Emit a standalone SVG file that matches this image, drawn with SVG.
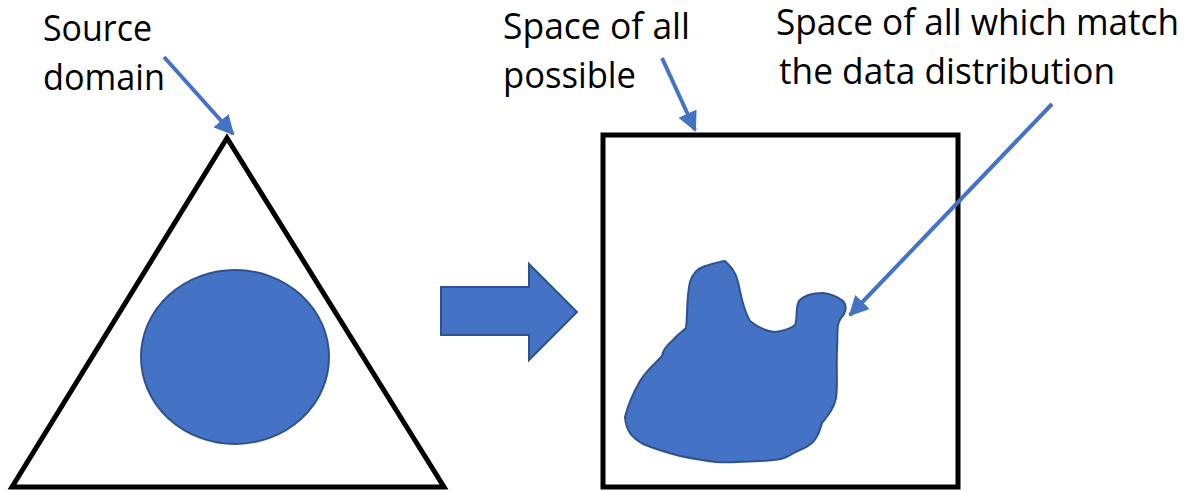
<svg xmlns="http://www.w3.org/2000/svg" width="1191" height="491" viewBox="0 0 1191 491">
<style>
.lbl{font-family:"Open Sans","Noto Sans",sans-serif;font-size:36px;fill:#000}
.outline{fill:#fff;stroke:#000;stroke-width:5}
.blue{fill:#4472C4;stroke:#2F528F;stroke-width:2}
.conn{stroke:#4472C4;stroke-width:4;fill:none}
</style>
<defs>
<marker id="ah" viewBox="0 0 10 10" refX="9" refY="5" markerWidth="5" markerHeight="5" orient="auto" markerUnits="strokeWidth">
<path d="M0,0 L10,5 L0,10 z" fill="#4472C4"/>
</marker>
</defs>
<rect width="1191" height="491" fill="#fff"/>
<g id="source-domain">
<polygon class="outline" points="227,138 444,487 12,487"/>
<ellipse class="blue" cx="235" cy="357" rx="94" ry="87"/>
</g>
<g id="transform-arrow">
<polygon class="blue" points="441,287 529,287 529,264 577,312 529,360 529,335 441,335"/>
</g>
<g id="target-space">
<rect class="outline" x="603" y="135" width="355" height="352"/>
<path class="blue" d="M725,261 C731,267 736,272 738,282 C741,295 743,310 750,321 C756,326 765,331 775,332 C783,331 790,329 795,325 C798,318 795,308 799,301 C805,294 815,293 823,293 C832,294 838,297 843,301 C848,307 845,314 841,318 C836,324 838,334 837,350 C836,370 838,385 836,398 C834,408 829,414 822,423 C819,432 818,437 812,443 C805,449 798,450 792,454 C785,459 780,460 760,461 C740,462 730,463 716,462 C700,460 690,458 680,456 C665,452 655,449 643,444 C633,438 626,432 625,417 C628,405 632,395 640,381 C648,368 655,364 662,356 C663,350 667,345 673,340 C679,333 683,331 686,328 C688,312 686,300 690,282 C693,272 699,268 705,266 C712,264 718,262 725,261 Z"/>
</g>
<g id="label-source">
<text class="lbl" x="43" y="41" textLength="109" lengthAdjust="spacingAndGlyphs">Source</text>
<text class="lbl" x="43" y="90" textLength="122" lengthAdjust="spacingAndGlyphs">domain</text>
</g>
<g id="label-possible">
<text class="lbl" x="503" y="39" textLength="187" lengthAdjust="spacingAndGlyphs">Space of all</text>
<text class="lbl" x="503" y="88" textLength="133" lengthAdjust="spacingAndGlyphs">possible</text>
</g>
<g id="label-match">
<text class="lbl" x="776" y="35" textLength="403" lengthAdjust="spacingAndGlyphs">Space of all which match</text>
<text class="lbl" x="779" y="84" textLength="336" lengthAdjust="spacingAndGlyphs">the data distribution</text>
</g>
<g id="connectors">
<line class="conn" x1="164" y1="57" x2="233" y2="134" marker-end="url(#ah)"/>
<line class="conn" x1="662" y1="58" x2="695" y2="130" marker-end="url(#ah)"/>
<line class="conn" x1="1052" y1="104" x2="850" y2="315" marker-end="url(#ah)"/>
</g>
</svg>
